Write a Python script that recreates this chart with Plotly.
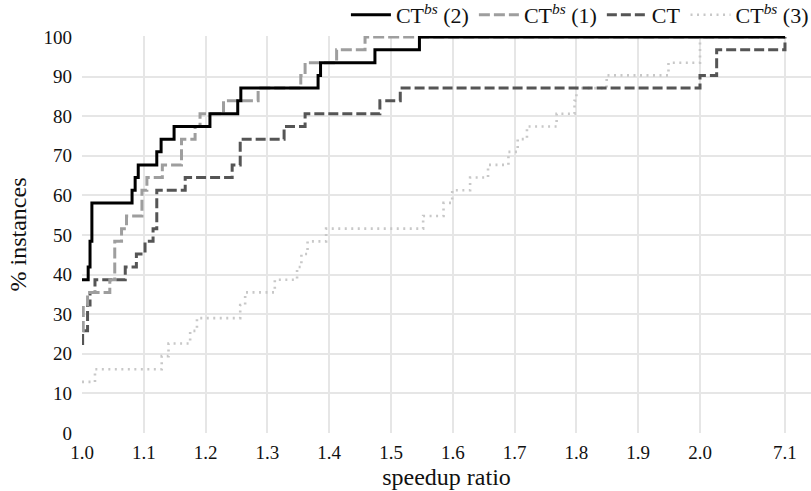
import plotly.graph_objects as go

# ---- data (speedup ratio, % instances) ----
ct2_x = [1.0, 1.01, 1.013, 1.016, 1.081, 1.086, 1.091, 1.121, 1.128, 1.149, 1.207,
         1.252, 1.257, 1.382, 1.386, 1.474, 1.546, 7.1]
ct2_y = [38.7, 41.9, 48.4, 58.1, 61.3, 64.5, 67.7, 71.0, 74.2, 77.4, 80.6,
         83.9, 87.1, 90.3, 93.5, 96.8, 100.0, 100.0]

ct1_x = [1.0, 1.002, 1.009, 1.045, 1.053, 1.064, 1.072, 1.097, 1.105, 1.13, 1.161,
         1.183, 1.191, 1.229, 1.285, 1.354, 1.361, 1.412, 1.458, 7.1]
ct1_y = [25.8, 32.3, 35.5, 38.7, 48.4, 51.6, 54.8, 61.3, 64.5, 67.7, 74.2,
         77.4, 80.6, 83.9, 87.1, 90.3, 93.5, 96.8, 100.0, 100.0]

ct_x = [1.0, 1.001, 1.009, 1.013, 1.021, 1.07, 1.088, 1.102, 1.115, 1.121, 1.167,
        1.243, 1.256, 1.327, 1.361, 1.482, 1.515, 2.0, 3.0, 7.1]
ct_y = [22.6, 25.8, 32.3, 35.5, 38.7, 41.9, 45.2, 48.4, 51.6, 61.3, 64.5,
        67.7, 74.2, 77.4, 80.6, 83.9, 87.1, 90.3, 96.8, 100.0]

ct3_x = [1.0, 1.021, 1.129, 1.14, 1.175, 1.186, 1.256, 1.264, 1.312, 1.348, 1.355,
         1.365, 1.395, 1.552, 1.585, 1.599, 1.628, 1.657, 1.69, 1.705, 1.72,
         1.768, 1.797, 1.8, 1.849, 1.949, 2.0, 7.1]
ct3_y = [12.9, 16.1, 19.4, 22.6, 25.8, 29.0, 32.3, 35.5, 38.7, 41.9, 45.2,
         48.4, 51.6, 54.8, 58.1, 61.3, 64.5, 67.7, 71.0, 74.2, 77.4,
         80.6, 83.9, 87.1, 90.3, 93.5, 100.0, 100.0]

x_ticks = [1.0, 1.1, 1.2, 1.3, 1.4, 1.5, 1.6, 1.7, 1.8, 1.9, 2.0, 7.1]
x_tick_labels = ["1.0", "1.1", "1.2", "1.3", "1.4", "1.5", "1.6", "1.7", "1.8", "1.9", "2.0", "7.1"]
y_ticks = [0, 10, 20, 30, 40, 50, 60, 70, 80, 90, 100]

# broken axis: beyond 2.0 the scale is compressed
BREAK = 2.0
COMPRESS = 0.1375 / 5.1


def tx(v):
    return v if v <= BREAK else BREAK + (v - BREAK) * COMPRESS


def txs(vals):
    return [tx(v) for v in vals]


FONT = "Liberation Serif, DejaVu Serif, serif"
TICKFONT = dict(family=FONT, size=19, color="#111111")

fig = go.Figure()
fig.add_trace(go.Scatter(x=txs(ct3_x), y=ct3_y, mode="lines", line_shape="hv",
                         name="CT<sup><i>bs</i></sup> (3)", legendrank=4,
                         line=dict(color="#c8c8c8", width=2.6, dash="2px,4.5px")))
fig.add_trace(go.Scatter(x=txs(ct_x), y=ct_y, mode="lines", line_shape="hv",
                         name="CT", legendrank=3,
                         line=dict(color="#555555", width=3, dash="10px,4px")))
fig.add_trace(go.Scatter(x=txs(ct1_x), y=ct1_y, mode="lines", line_shape="hv",
                         name="CT<sup><i>bs</i></sup> (1)", legendrank=2,
                         line=dict(color="#9e9e9e", width=3, dash="11px,4px")))
fig.add_trace(go.Scatter(x=txs(ct2_x), y=ct2_y, mode="lines", line_shape="hv",
                         name="CT<sup><i>bs</i></sup> (2)", legendrank=1,
                         line=dict(color="#000000", width=3)))

fig.update_layout(
    width=811, height=491,
    margin=dict(l=82, r=0, t=36, b=58, autoexpand=False),
    paper_bgcolor="white", plot_bgcolor="white",
    font=dict(family=FONT, size=18, color="#111111"),
    legend=dict(orientation="h", x=1.004, xanchor="right", y=1.0, yanchor="bottom",
                font=dict(family=FONT, size=22, color="#111111"),
                bgcolor="rgba(0,0,0,0)",
                itemwidth=40, tracegroupgap=0),
    showlegend=True,
)
fig.update_xaxes(
    range=[1.0, BREAK + (811 - 700) / 618.0],
    tickvals=txs(x_ticks), ticktext=x_tick_labels, tickfont=TICKFONT,
    showgrid=True, gridcolor="#e6e6e6", gridwidth=1.6,
    zeroline=False, showline=False, ticks="",
    ticklabelstandoff=6,
    title=dict(text="speedup ratio", font=dict(family=FONT, size=24, color="#111111"), standoff=6),
)
fig.update_yaxes(
    range=[0, 100.25],
    tickvals=y_ticks, tickfont=TICKFONT,
    showgrid=True, gridcolor="#e6e6e6", gridwidth=1.6,
    zeroline=False, showline=False, ticks="",
    ticklabelstandoff=9,
    title=dict(text="% instances", font=dict(family=FONT, size=24, color="#111111"), standoff=10),
)

fig.write_html("out.html", config={"displayModeBar": False},
               post_script="document.body.style.margin='0';")
